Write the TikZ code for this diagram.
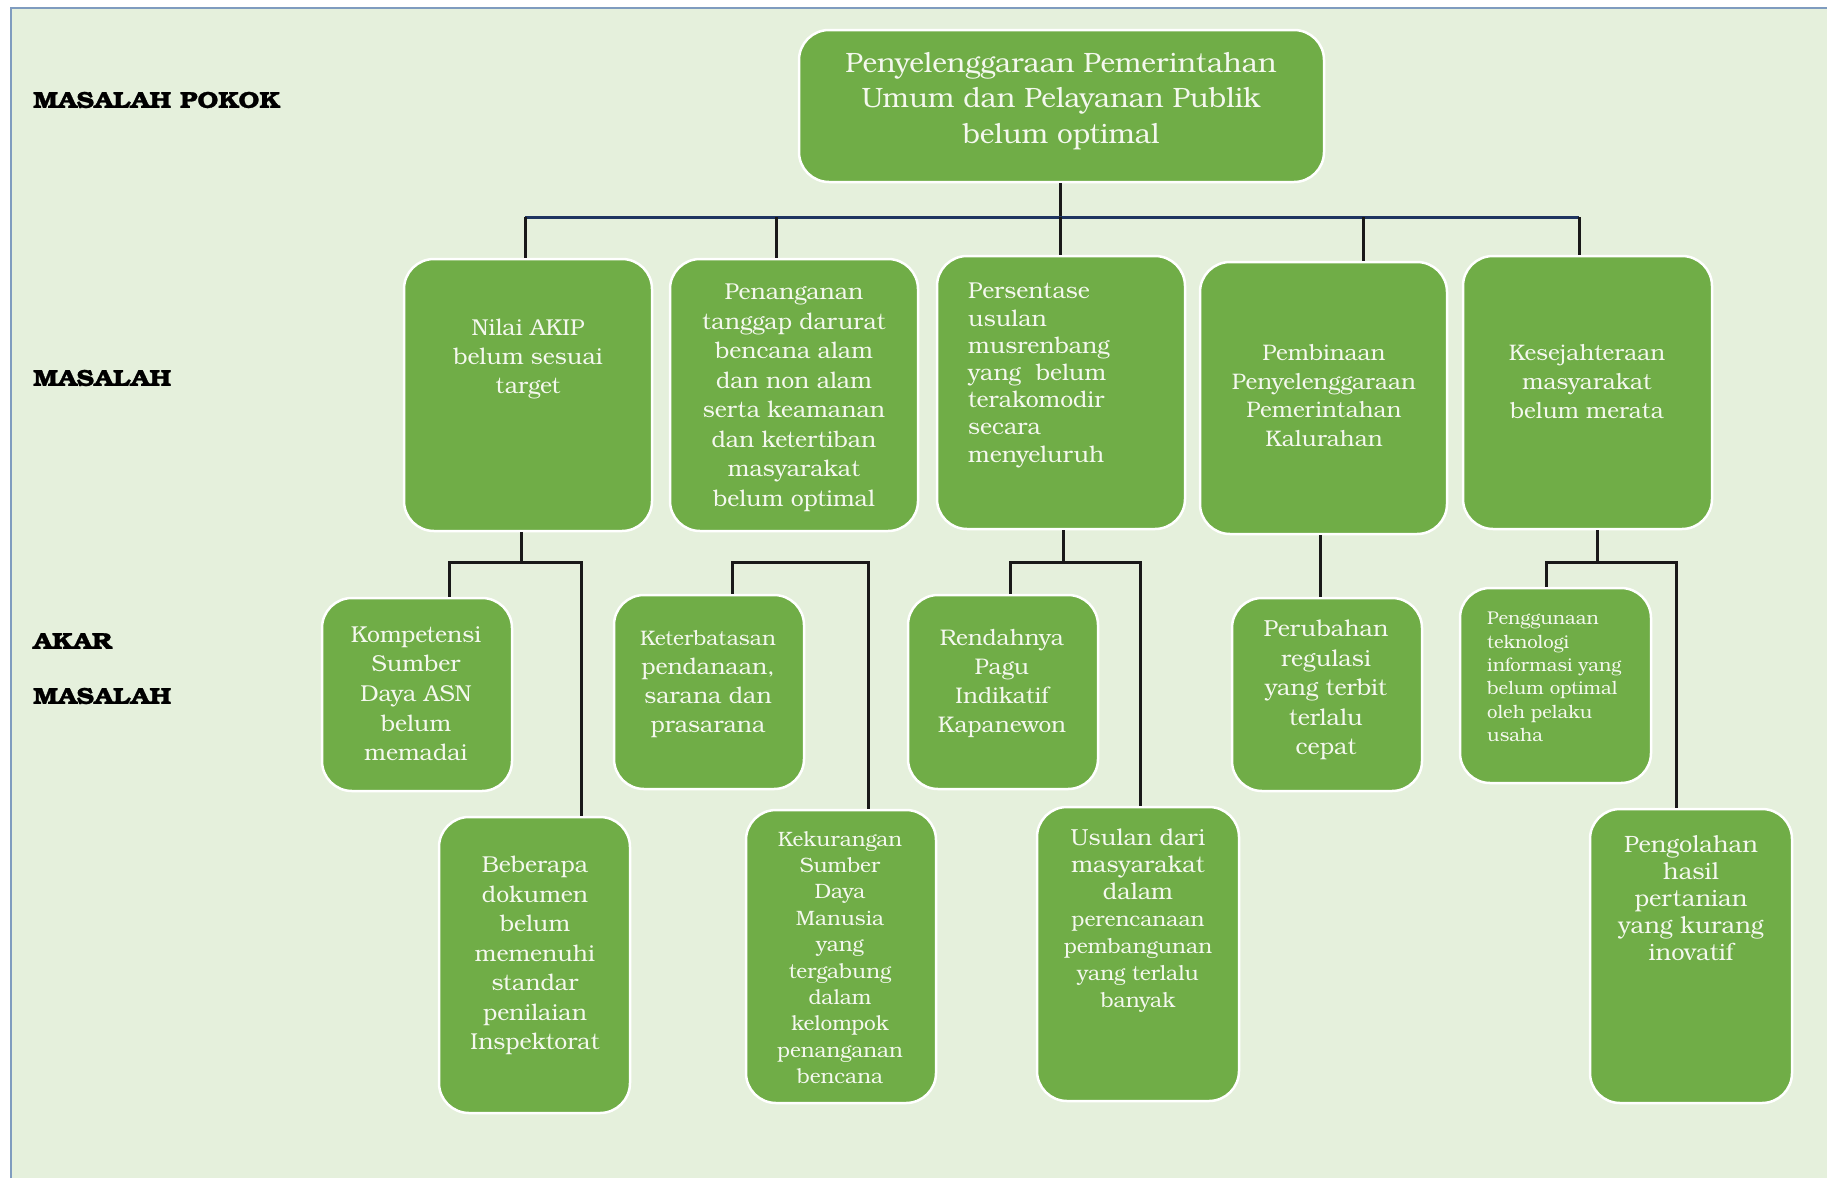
\documentclass[tikz,border=0pt]{standalone}
\usepackage{fontspec}
\setmainfont{TeX Gyre Bonum}
\newfontfamily\labfont[FakeStretch=1.14, BoldFeatures={FakeBold=1.2}]{TeX Gyre Bonum}
\usetikzlibrary{fit}
\definecolor{panel}{HTML}{E5F0DC}
\definecolor{paneledge}{HTML}{7F9CBF}
\definecolor{boxgreen}{HTML}{70AD47}
\definecolor{busblue}{HTML}{1F3560}
\definecolor{txtw}{HTML}{F4F8EE}
\tikzset{
  box/.style={draw=white, line width=2.5pt, fill=boxgreen, rounded corners=30pt, inner sep=0pt},
  btxt/.style={text=txtw, inner sep=0pt, anchor=north, align=center},
  ltxt/.style={text=txtw, inner sep=0pt, anchor=north west, align=left},
  lab/.style={font=\labfont\fontsize{23}{26}\selectfont\bfseries, anchor=west, inner sep=0pt},
  conn/.style={line width=3pt, draw=black!90},
  bus/.style={line width=3pt, draw=busblue}
}
\begin{document}
\begin{tikzpicture}[x=1pt,y=-1pt]
\useasboundingbox (0,0) rectangle (1827,1178);
\fill[white] (0,0) rectangle (1827,1178);
\fill[panel] (11,8) rectangle (1827,1178);
\draw[paneledge, line width=2pt] (11,1178) -- (11,8) -- (1827,8);

% labels
\node[lab] (l1) at (33,100) {MASALAH POKOK};
\node[lab] (l2) at (33,378) {MASALAH};
\node[lab] (l3) at (33,641) {AKAR};
\node[lab] (l4) at (33,696) {MASALAH};

% coordinates for connectors
\coordinate (busL) at (525,217);
\coordinate (busR) at (1579,217);
\coordinate (j1) at (525,217);
\coordinate (j2) at (776,217);
\coordinate (j3) at (1060,217);
\coordinate (j4) at (1363,217);
\coordinate (j5) at (1579,217);

% boxes
\node[box, fit={(799,30) (1324,182)}] (top) {};
\node[box, fit={(404,259) (652,531)}] (m1) {};
\node[box, fit={(670,259) (918,531)}] (m2) {};
\node[box, fit={(937,256) (1185,529)}] (m3) {};
\node[box, fit={(1200,262) (1447,534)}] (m4) {};
\node[box, fit={(1463,256) (1712,529)}] (m5) {};
\node[box, fit={(322,598) (512,791)}] (a1) {};
\node[box, fit={(439,817) (630,1113)}] (a2) {};
\node[box, fit={(614,595) (804,789)}] (a3) {};
\node[box, fit={(746,810) (936,1103)}] (a4) {};
\node[box, fit={(908,595) (1098,789)}] (a5) {};
\node[box, fit={(1037,807) (1239,1101)}] (a6) {};
\node[box, fit={(1232,598) (1422,791)}] (a7) {};
\node[box, fit={(1460,588) (1651,783)}] (a8) {};
\node[box, fit={(1590,809) (1792,1103)}] (a9) {};

% level connectors
\draw[conn] (j3 |- top.south) -- (j3);
\draw[bus] (busL) -- (busR);
\draw[conn] (j1) -- (j1 |- m1.north);
\draw[conn] (j2) -- (j2 |- m2.north);
\draw[conn] (j3) -- (j3 |- m3.north);
\draw[conn] (j4) -- (j4 |- m4.north);
\draw[conn] (j5) -- (j5 |- m5.north);

% m1 -> a1, a2
\coordinate (k1) at (521,562);
\coordinate (k1l) at (449,562);
\coordinate (k1r) at (581,562);
\draw[conn] (k1 |- m1.south) -- (k1);
\draw[conn] (k1l |- a1.north) -- (k1l) -- (k1r) -- (k1r |- a2.north);
% bracket a3, a4
\coordinate (k2l) at (732,562);
\coordinate (k2r) at (868,562);
\draw[conn] (k2l |- a3.north) -- (k2l) -- (k2r) -- (k2r |- a4.north);
% m3 -> a5, a6
\coordinate (k3) at (1063,562);
\coordinate (k3l) at (1010,562);
\coordinate (k3r) at (1140,562);
\draw[conn] (k3 |- m3.south) -- (k3);
\draw[conn] (k3l |- a5.north) -- (k3l) -- (k3r) -- (k3r |- a6.north);
% m4 -> a7
\coordinate (k4) at (1320,562);
\draw[conn] (k4 |- m4.south) -- (k4 |- a7.north);
% m5 -> a8, a9
\coordinate (k5) at (1597,562);
\coordinate (k5l) at (1546,562);
\coordinate (k5r) at (1676,562);
\draw[conn] (k5 |- m5.south) -- (k5);
\draw[conn] (k5l |- a8.north) -- (k5l) -- (k5r) -- (k5r |- a9.north);

% texts
\node[btxt, font=\fontsize{28}{35.5}\selectfont] (topt) at (1061,52) {Penyelenggaraan Pemerintahan\\Umum dan Pelayanan Publik\\belum optimal};
\node[btxt, font=\fontsize{23}{29}\selectfont] (m1t) at (528,319) {Nilai AKIP\\belum sesuai\\target};
\node[btxt, font=\fontsize{23}{29.5}\selectfont] (m2t) at (794,284) {Penanganan\\tanggap darurat\\bencana alam\\dan non alam\\serta keamanan\\dan ketertiban\\masyarakat\\belum optimal};
\node[ltxt, font=\fontsize{23}{27.2}\selectfont] (m3t) at (968,283) {Persentase\\usulan\\musrenbang\\yang~ belum\\terakomodir\\secara\\menyeluruh};
\node[btxt, font=\fontsize{22.5}{28.7}\selectfont] (m4t) at (1324,344) {Pembinaan\\Penyelenggaraan\\Pemerintahan\\Kalurahan};
\node[btxt, font=\fontsize{22.5}{29}\selectfont] (m5t) at (1587,344) {Kesejahteraan\\masyarakat\\belum merata};

\node[btxt, font=\fontsize{23}{29.7}\selectfont] (a1t) at (416,626) {Kompetensi\\Sumber\\Daya ASN\\belum\\memadai};
\node[btxt, font=\fontsize{23}{29.5}\selectfont] (a2t) at (535,856) {Beberapa\\dokumen\\belum\\memenuhi\\standar\\penilaian\\Inspektorat};
\node[btxt, font=\fontsize{23}{29}\selectfont] (a3t) at (708,630) {{\fontsize{21}{29}\selectfont Keterbatasan}\\pendanaan,\\sarana dan\\prasarana};
\node[btxt, font=\fontsize{20.8}{26.4}\selectfont] (a4t) at (840,831) {Kekurangan\\Sumber\\Daya\\Manusia\\yang\\tergabung\\dalam\\kelompok\\penanganan\\bencana};
\node[btxt, font=\fontsize{22.6}{29}\selectfont] (a5t) at (1002,629) {Rendahnya\\Pagu\\Indikatif\\Kapanewon};
\node[btxt, font=\fontsize{23.2}{27}\selectfont] (a6t) at (1138,829) {Usulan dari\\masyarakat\\dalam\\{\fontsize{21}{24.5}\selectfont perencanaan}\\{\fontsize{21}{24.5}\selectfont pembangunan}\\{\fontsize{21}{24.5}\selectfont yang terlalu}\\{\fontsize{21}{24.5}\selectfont banyak}};
\node[btxt, font=\fontsize{23.2}{29.5}\selectfont] (a7t) at (1326,620) {Perubahan\\regulasi\\yang terbit\\terlalu\\cepat};
\node[ltxt, font=\fontsize{18.5}{23.3}\selectfont] (a8t) at (1487,612) {Penggunaan\\teknologi\\informasi yang\\belum optimal\\oleh pelaku\\usaha};
\node[btxt, font=\fontsize{23.6}{27}\selectfont] (a9t) at (1691,835) {Pengolahan\\hasil\\pertanian\\yang kurang\\inovatif};
\end{tikzpicture}
\end{document}
